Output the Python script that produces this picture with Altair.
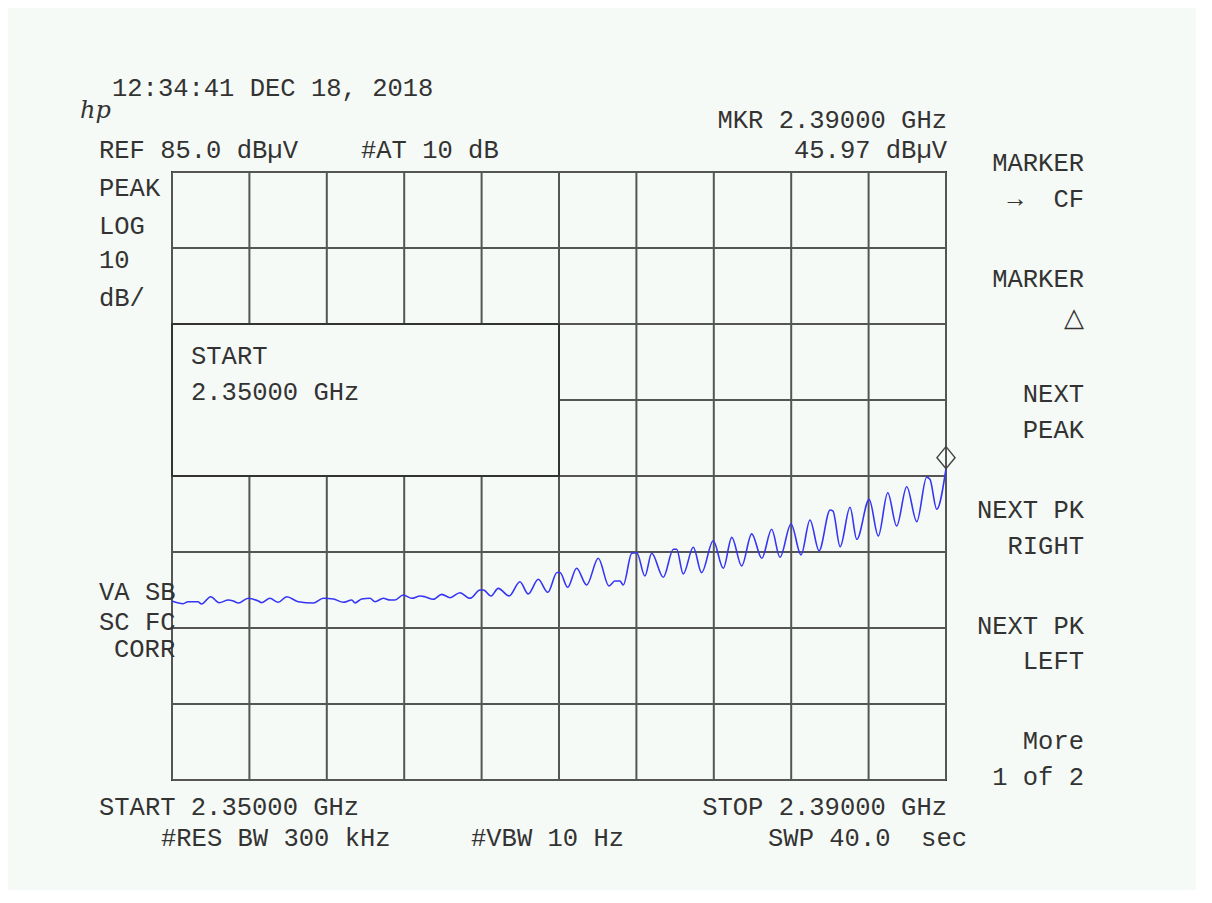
import altair as alt
import pandas as pd

# ---------------- data ----------------
freq_mhz = [
    2350.00, 2350.58, 2350.83, 2351.34, 2351.53, 2352.00, 2352.44, 2352.91, 2353.17, 2353.43,
    2353.94, 2354.46, 2354.64, 2355.06, 2355.49, 2355.93, 2356.53, 2357.30, 2357.82, 2358.34,
    2358.85, 2359.29, 2359.46, 2359.80, 2360.23, 2360.49, 2360.92, 2361.27, 2361.52, 2361.95,
    2362.39, 2362.82, 2363.07, 2363.50, 2363.94, 2364.37, 2364.88, 2365.40, 2365.92, 2366.09,
    2366.49, 2366.86, 2367.42, 2367.98, 2368.41, 2368.93, 2369.42, 2369.90, 2370.05, 2370.45,
    2370.91, 2371.43, 2372.03, 2372.58, 2372.89, 2373.15, 2373.32, 2373.76, 2374.02, 2374.44,
    2374.79, 2375.39, 2375.91, 2376.08, 2376.42, 2376.94, 2377.37, 2377.97, 2378.49, 2378.93,
    2379.44, 2379.96, 2380.48, 2380.99, 2381.42, 2381.99, 2382.51, 2382.97, 2383.44, 2384.01,
    2384.16, 2384.53, 2385.04, 2385.39, 2386.03, 2386.50, 2386.99, 2387.45, 2387.97, 2388.49,
    2389.00, 2389.17, 2389.52, 2390.00,
]
level_dbuv = [
    28.55, 28.20, 28.46, 28.46, 28.16, 29.12, 28.33, 28.68, 28.55, 28.29,
    28.91, 28.55, 28.33, 28.91, 28.38, 29.12, 28.46, 28.29, 28.91, 28.82,
    28.38, 28.68, 28.29, 28.82, 28.91, 28.46, 28.91, 28.68, 28.68, 29.34,
    28.91, 29.21, 29.12, 28.78, 29.43, 28.99, 29.64, 28.91, 30.00, 30.00,
    29.21, 30.22, 29.21, 31.09, 29.47, 31.41, 29.70, 32.30, 32.30, 30.36,
    32.86, 30.66, 34.17, 30.53, 31.18, 31.18, 30.66, 34.83, 34.91, 31.84,
    34.83, 31.67, 35.36, 35.36, 32.11, 35.62, 32.28, 36.49, 32.86, 36.93,
    33.16, 37.39, 34.17, 37.99, 34.30, 38.68, 34.61, 39.21, 35.17, 40.53,
    40.39, 35.70, 40.88, 36.67, 41.93, 37.11, 42.80, 38.42, 43.59, 38.99,
    44.83, 44.57, 40.62, 45.97,
]

marker_freq = [2390.00]
marker_level = [45.97]

grid_freqs = [2350, 2354, 2358, 2362, 2366, 2370, 2374, 2378, 2382, 2386, 2390]
grid_levels = [5, 15, 25, 35, 45, 55, 65, 75, 85]

# annotation box (START 2.35000 GHz) spans these data ranges
box_freq = [2350, 2370]
box_level = [45, 65]

NB = "\u00a0"
left_texts = [
    "12:34:41 DEC 18, 2018", "REF 85.0 dBµV", "#AT 10 dB",
    "PEAK", "LOG", "10", "dB/",
    "START", "2.35000 GHz",
    "VA SB", "SC FC", "CORR",
    "START 2.35000 GHz", "#RES BW 300 kHz", "#VBW 10 Hz",
]
right_texts = [
    "MKR 2.39000 GHz", "45.97 dBµV", "STOP 2.39000 GHz", "SWP 40.0" + NB + NB + "sec",
    "MARKER", "→" + NB + NB + "CF", "MARKER", "△", "NEXT", "PEAK",
    "NEXT PK", "RIGHT", "NEXT PK", "LEFT", "More", "1 of 2",
]

# ---------------- layout (page pixels) ----------------
ORIGIN = 172  # plot area top-left on the page (8px margin + 164px padding)
left_pos = [
    (112, 88), (99, 150), (361, 150),
    (99, 188), (99, 226), (99, 260), (99, 298),
    (191, 356), (191, 392),
    (99, 592), (99, 622), (114, 649),
    (99, 807), (161, 838), (471, 838),
]
right_pos = [
    (947, 120), (947, 150), (947, 807), (967, 838),
    (1084, 163), (1084, 199), (1084, 279), (1084, 318), (1084, 394), (1084, 430),
    (1084, 510), (1084, 546), (1084, 626), (1084, 661), (1084, 741), (1084, 777),
]

BG = "#f6faf6"
INK = "#333333"
GRID = "#555555"
FONT = "Liberation Mono"
FS = 25.5

x_scale = alt.Scale(domain=[2350, 2390], nice=False, zero=False)
y_scale = alt.Scale(domain=[5, 85], nice=False, zero=False)

trace_df = pd.DataFrame({"f": freq_mhz, "db": level_dbuv})
marker_df = pd.DataFrame({"f": marker_freq, "db": marker_level})
gx_df = pd.DataFrame({"f": grid_freqs})
gy_df = pd.DataFrame({"db": grid_levels})
box_df = pd.DataFrame({"f1": [box_freq[0]], "f2": [box_freq[1]],
                       "d1": [box_level[0]], "d2": [box_level[1]]})

vgrid = alt.Chart(gx_df).mark_rule(color=GRID, strokeWidth=2).encode(
    x=alt.X("f:Q", scale=x_scale, axis=None),
)
hgrid = alt.Chart(gy_df).mark_rule(color=GRID, strokeWidth=2).encode(
    y=alt.Y("db:Q", scale=y_scale, axis=None),
)

box = alt.Chart(box_df).mark_rect(fill=BG, stroke="#333333", strokeWidth=2).encode(
    x=alt.X("f1:Q", scale=x_scale, axis=None),
    x2="f2:Q",
    y=alt.Y("d1:Q", scale=y_scale, axis=None),
    y2="d2:Q",
)

trace = alt.Chart(trace_df).mark_line(color="#3535f5", strokeWidth=1.6,
                                      interpolate="monotone").encode(
    x=alt.X("f:Q", scale=x_scale, axis=None),
    y=alt.Y("db:Q", scale=y_scale, axis=None),
)

marker = alt.Chart(marker_df).mark_point(
    shape="M0,-2L0.82,-1L0,0L-0.82,-1Z", size=484, filled=False,
    stroke="#444444", strokeWidth=1.5, opacity=1,
).encode(
    x=alt.X("f:Q", scale=x_scale, axis=None),
    y=alt.Y("db:Q", scale=y_scale, axis=None),
)

one = pd.DataFrame({"k": [0]})
text_layers = []
for s, (px, py) in zip(left_texts, left_pos):
    text_layers.append(
        alt.Chart(one).mark_text(align="left", baseline="middle", font=FONT,
                                 fontSize=FS, color=INK).encode(
            text=alt.value(s), x=alt.value(px - ORIGIN), y=alt.value(py - ORIGIN))
    )
for s, (px, py) in zip(right_texts, right_pos):
    text_layers.append(
        alt.Chart(one).mark_text(align="right", baseline="middle", font=FONT,
                                 fontSize=FS, color=INK).encode(
            text=alt.value(s), x=alt.value(px - ORIGIN), y=alt.value(py - ORIGIN))
    )
# hp logo
text_layers.append(
    alt.Chart(one).mark_text(align="left", baseline="middle", font="DejaVu Serif",
                             fontStyle="italic", fontSize=24, color=INK).encode(
        text=alt.value("hp"), x=alt.value(80 - ORIGIN), y=alt.value(111 - ORIGIN))
)

chart = alt.layer(vgrid, hgrid, box, trace, marker, *text_layers).properties(
    width=774, height=608,
    padding={"left": 164, "top": 164, "right": 250, "bottom": 110},
    autosize=alt.AutoSizeParams(type="none"),
    background=BG,
).configure_view(stroke="#222222", strokeWidth=2, fill=BG)

chart.save("out.html", embed_options={"renderer": "svg", "actions": False})
